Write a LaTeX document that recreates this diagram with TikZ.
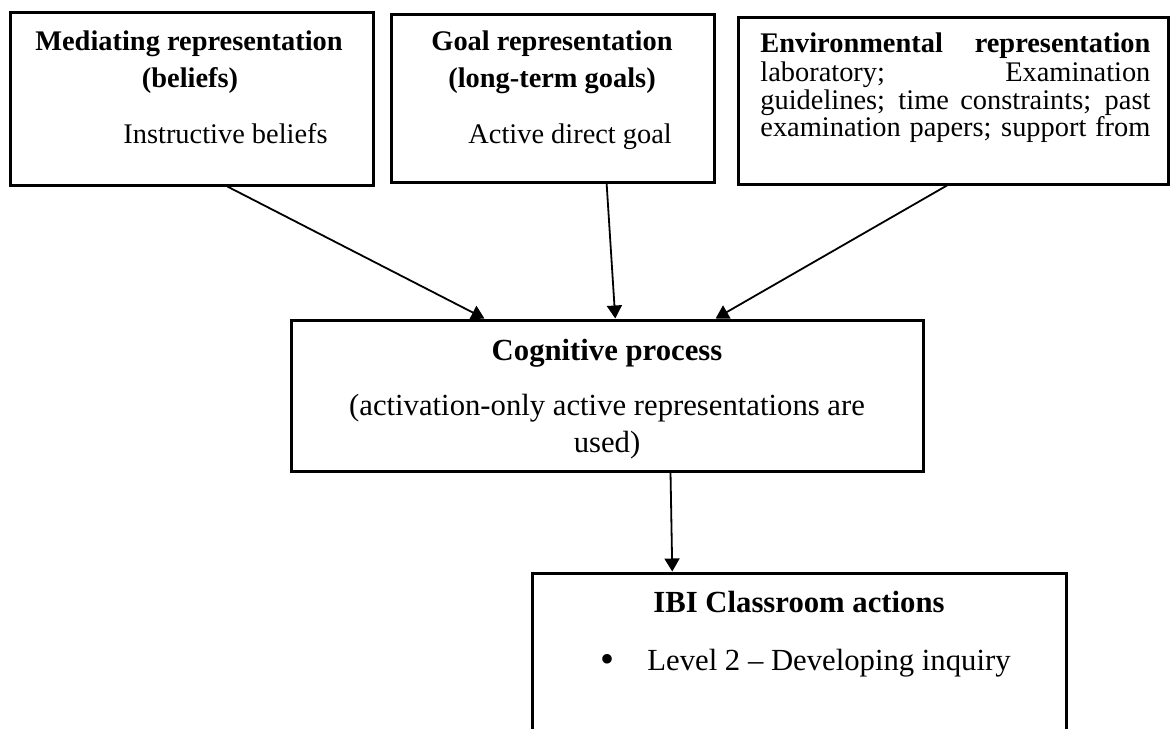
\documentclass[tikz,border=0pt]{standalone}
\usepackage{fontspec}
\setmainfont{Liberation Serif}
\usetikzlibrary{arrows.meta,calc}
\begin{document}
\begin{tikzpicture}[x=0.5pt,y=-0.5pt,
  box/.style={draw, line width=1.5pt, inner sep=0pt},
  small/.style={font=\fontsize{14.2}{17}\selectfont, inner sep=0pt, anchor=base},
  large/.style={font=\fontsize{15.35}{18}\selectfont, inner sep=0pt, anchor=base},
  arr/.style={line width=0.9pt, -{Triangle[length=6.5pt,width=7.5pt]}}]
\useasboundingbox (0,0) rectangle (1171,728);
\clip (0,0) rectangle (1171,728);

% boxes
\node[box, minimum width=181.5pt, minimum height=86.5pt] (med) at (191.5,98.5) {};
\node[box, minimum width=161.5pt, minimum height=84pt] (goal) at (552.5,98) {};
\node[box, minimum width=215pt, minimum height=83.5pt] (env) at (953,100.5) {};
\node[box, minimum width=316pt, minimum height=75.5pt] (cog) at (607,395.5) {};
\node[box, minimum width=267pt, minimum height=93.5pt] (ibi) at (799,666.5) {};

% mediating representation
\node[small] (m1) at (189,50) {\bfseries Mediating representation};
\node[small] (m2) at (190,87) {\bfseries (beliefs)};
\node[small, anchor=base west] (m3) at (123,143) {Instructive beliefs};

% goal representation
\node[small] (g1) at (552,50) {\bfseries Goal representation};
\node[small] (g2) at (552,87) {\bfseries (long-term goals)};
\node[small, anchor=base west] (g3) at (468,143) {Active direct goal};

% environmental representation (justified lines)
\node[small, anchor=base west] (e1) at (760,52) {\makebox[195pt][s]{\bfseries Environmental representation}};
\node[small, anchor=base west] (e2) at (760,81) {\makebox[195pt][s]{laboratory; Examination}};
\node[small, anchor=base west] (e3) at (760,109) {\makebox[195pt][s]{guidelines; time constraints; past}};
\node[small, anchor=base west] (e4) at (760,136) {\makebox[195pt][s]{examination papers; support from}};

% cognitive process
\node[large] (c1) at (607,360) {\bfseries Cognitive process};
\node[large] (c2) at (607,415) {(activation-only active representations are};
\node[large] (c3) at (607,452) {used)};

% classroom actions
\node[large] (d1) at (799,612) {\bfseries IBI Classroom actions};
\node[large, font=\fontsize{20}{20}\selectfont] (bul) at (607,672) {\textbullet};
\node[large, anchor=base west] (d2) at (647,670) {Level 2 -- Developing inquiry};

% connectors
\draw[arr] ($(med.south west)!0.598!(med.south east)$) -- ($(cog.north west)!0.307!(cog.north east)$);
\draw[arr] ($(goal.south west)!0.666!(goal.south east)$) -- ($(cog.north west)!0.513!(cog.north east)$);
\draw[arr] ($(env.south west)!0.486!(env.south east)$) -- ($(cog.north west)!0.671!(cog.north east)$);
\draw[arr] ($(cog.south west)!0.600!(cog.south east)$) -- ($(ibi.north west)!0.264!(ibi.north east)$);
\end{tikzpicture}
\end{document}
